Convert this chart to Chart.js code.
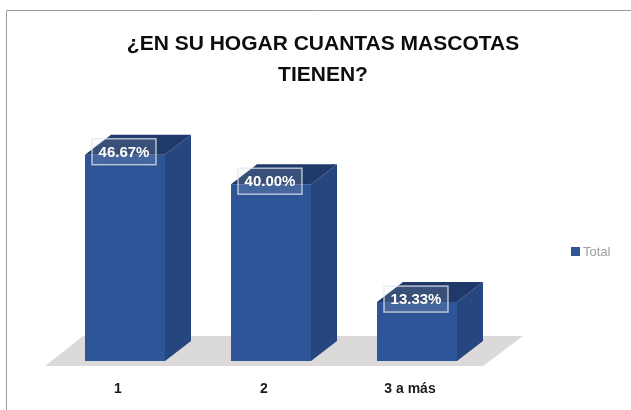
<!DOCTYPE html>
<html>
<head>
<meta charset="utf-8">
<script src="https://cdn.jsdelivr.net/npm/chart.js@4/dist/chart.umd.min.js"></script>
<style>
  html, body { margin: 0; padding: 0; background: #ffffff; }
  #wrap { position: relative; width: 631px; height: 410px; }
  canvas { display: block; }
</style>
</head>
<body>
<div id="wrap"><canvas id="c" width="631" height="410"></canvas></div>
<script>
const categories = ['1', '2', '3 a más'];
const seriesName = 'Total';
const totalValues = [46.67, 40.00, 13.33];
const titleLines = ['¿EN SU HOGAR CUANTAS MASCOTAS', 'TIENEN?'];

const FONT = "'Liberation Sans', Arial, sans-serif";
const FRONT = '#2e5597';
const SIDE = '#25467e';
const TOP = '#1f3a6a';
const DX = 26, DY = 20;

const threeD = {
  id: 'threeD',
  beforeDraw(chart) {
    const ctx = chart.ctx;
    ctx.save();
    ctx.strokeStyle = '#9c9c9c';
    ctx.lineWidth = 1;
    ctx.beginPath();
    ctx.moveTo(6.5, 410);
    ctx.lineTo(6.5, 10.5);
    ctx.lineTo(631, 10.5);
    ctx.stroke();
    ctx.restore();
  },
  beforeDatasetsDraw(chart) {
    const { ctx, chartArea: a } = chart;
    ctx.save();
    ctx.fillStyle = '#dbd9da';
    ctx.beginPath();
    ctx.moveTo(a.left - 7, a.bottom + 5);
    ctx.lineTo(a.right - 7, a.bottom + 5);
    ctx.lineTo(a.right + 33, a.bottom - 25);
    ctx.lineTo(a.left + 31, a.bottom - 25);
    ctx.closePath();
    ctx.fill();
    ctx.restore();
  },
  afterDatasetsDraw(chart) {
    const ctx = chart.ctx;
    const meta = chart.getDatasetMeta(0);
    const data = chart.data.datasets[0].data;
    ctx.save();
    meta.data.forEach((bar) => {
      const { x, y, base, width } = bar.getProps(['x', 'y', 'base', 'width'], true);
      const x1 = x - width / 2, x2 = x + width / 2;
      ctx.fillStyle = SIDE;
      ctx.beginPath();
      ctx.moveTo(x2, y);
      ctx.lineTo(x2 + DX, y - DY);
      ctx.lineTo(x2 + DX, base - DY);
      ctx.lineTo(x2, base);
      ctx.closePath();
      ctx.fill();
      ctx.fillStyle = TOP;
      ctx.beginPath();
      ctx.moveTo(x1, y);
      ctx.lineTo(x1 + DX, y - DY);
      ctx.lineTo(x2 + DX, y - DY);
      ctx.lineTo(x2, y);
      ctx.closePath();
      ctx.fill();
    });
    meta.data.forEach((bar, i) => {
      const { x, y } = bar.getProps(['x', 'y'], true);
      const cx = x - 1, cy = y - 3;
      const w = 64, h = 26;
      ctx.save();
      ctx.shadowColor = 'rgba(0,0,0,0.35)';
      ctx.shadowBlur = 6;
      ctx.shadowOffsetY = 3;
      ctx.fillStyle = 'rgba(255,255,255,0.12)';
      ctx.fillRect(cx - w / 2, cy - h / 2, w, h);
      ctx.restore();
      ctx.strokeStyle = 'rgba(225,230,240,0.75)';
      ctx.lineWidth = 1.5;
      ctx.strokeRect(cx - w / 2, cy - h / 2, w, h);
      ctx.fillStyle = '#ffffff';
      ctx.font = 'bold 15px ' + FONT;
      ctx.textAlign = 'center';
      ctx.textBaseline = 'middle';
      ctx.fillText(data[i].toFixed(2) + '%', cx, cy + 1);
    });
    // legend
    ctx.fillStyle = FRONT;
    ctx.fillRect(571, 247, 9, 9);
    ctx.fillStyle = '#a0a0a0';
    ctx.font = '13px ' + FONT;
    ctx.textAlign = 'left';
    ctx.textBaseline = 'middle';
    ctx.fillText(seriesName, 583, 252);
    ctx.restore();
  }
};

new Chart(document.getElementById('c'), {
  type: 'bar',
  data: {
    labels: categories,
    datasets: [{
      label: seriesName,
      data: totalValues,
      backgroundColor: FRONT,
      borderWidth: 0,
      barPercentage: 80 / 146,
      categoryPercentage: 1
    }]
  },
  options: {
    responsive: false,
    animation: false,
    devicePixelRatio: 1,
    layout: { padding: { left: 15, right: 0, top: 0, bottom: 14 } },
    plugins: {
      legend: { display: false },
      tooltip: { enabled: false },
      title: {
        display: true,
        text: titleLines,
        color: '#0d0d0d',
        font: { family: FONT, size: 21, weight: 'bold', lineHeight: 31 / 21 },
        padding: { top: 29, bottom: 49 }
      }
    },
    scales: {
      x: {
        grid: { display: false, drawTicks: false },
        border: { display: false },
        ticks: {
          color: '#1a1a1a',
          font: { family: FONT, size: 14, weight: 'bold' },
          padding: 20,
          labelOffset: -7
        },
        afterFit: (s) => { s.height = 35; }
      },
      y: {
        position: 'left',
        min: 0, max: 50,
        grid: { display: false, drawTicks: false },
        border: { display: false },
        ticks: { display: false },
        afterFit: (s) => { s.width = 37; }
      },
      yPad: {
        position: 'right',
        grid: { display: false, drawTicks: false },
        border: { display: false },
        ticks: { display: false },
        afterFit: (s) => { s.width = 141; }
      }
    }
  },
  plugins: [threeD]
});
</script>
</body>
</html>
